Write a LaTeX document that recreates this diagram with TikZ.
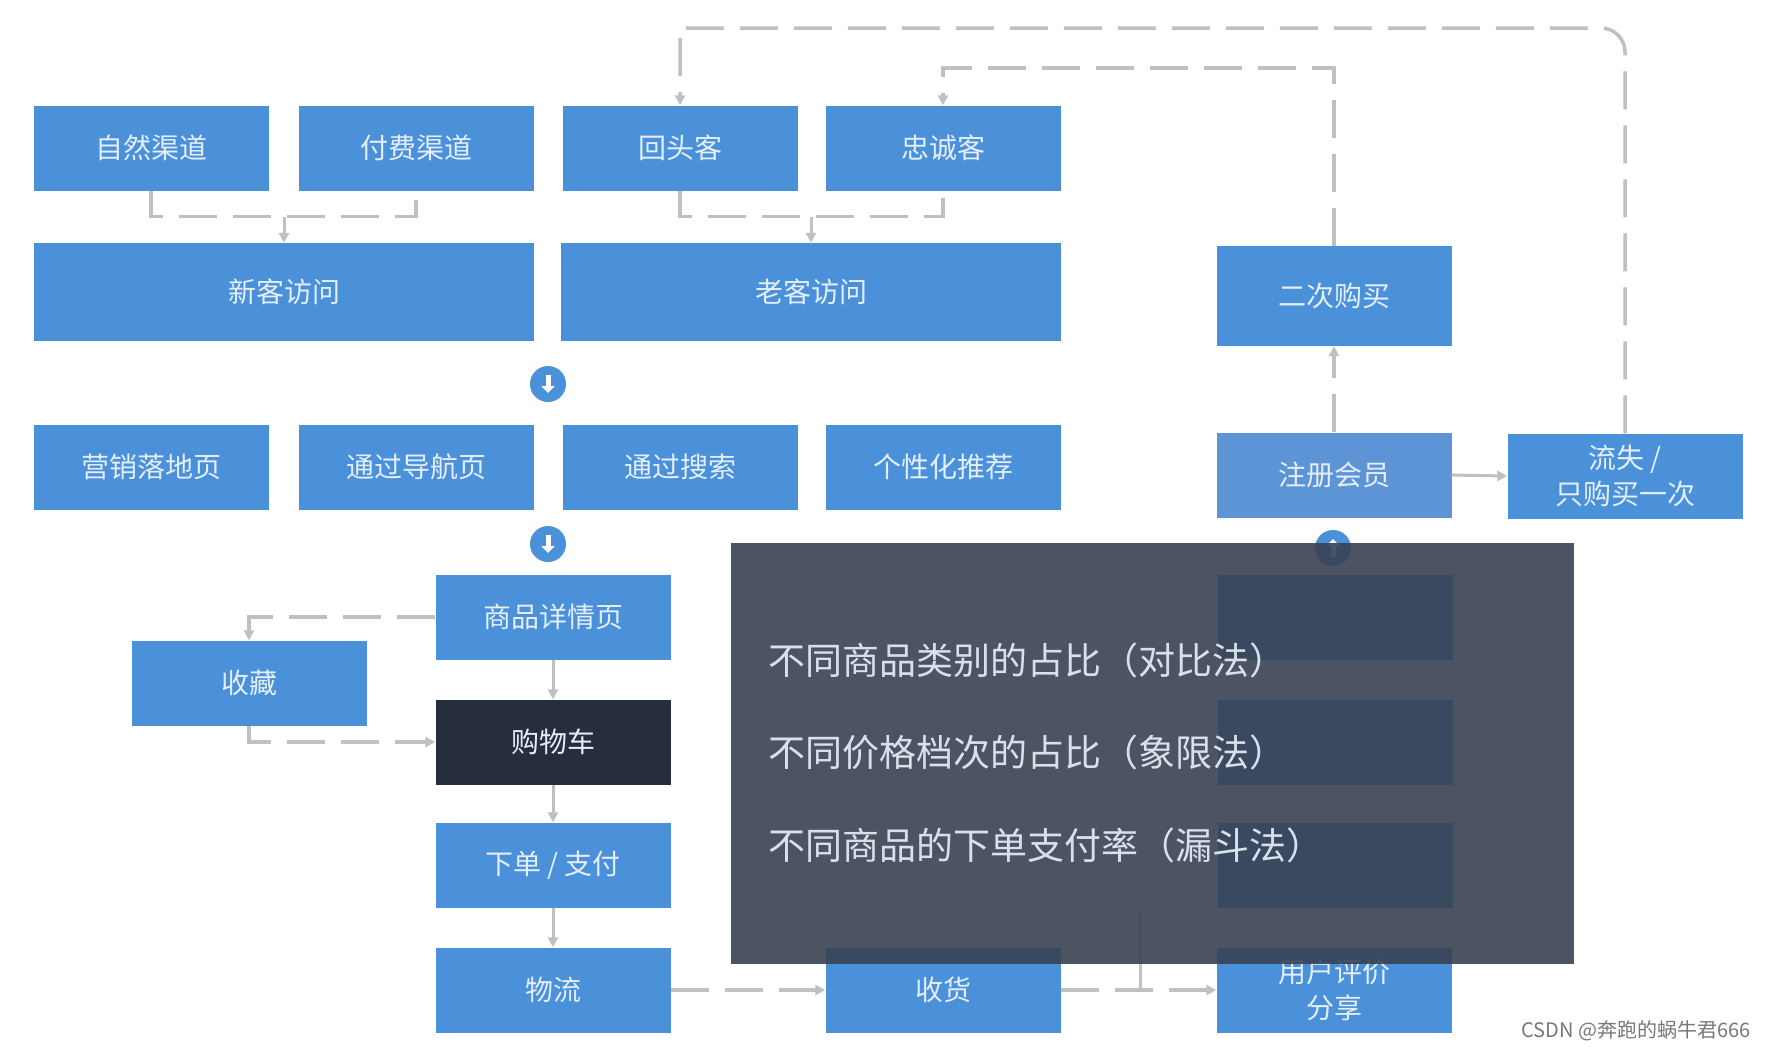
\documentclass[tikz,border=0pt]{standalone}
\usepackage{fontspec}
\setmainfont{Noto Sans CJK SC}
\usetikzlibrary{arrows.meta,positioning}

\definecolor{boxblue}{RGB}{74,145,218}
\definecolor{memberblue}{RGB}{92,148,214}
\definecolor{cartdark}{RGB}{38,45,61}
\definecolor{linegrey}{RGB}{192,192,192}
\definecolor{veilgrey}{RGB}{57,66,83}
\definecolor{boxtext}{RGB}{228,238,249}
\definecolor{marktext}{RGB}{120,120,120}

\tikzset{
  stage/.style={fill=boxblue, text=boxtext, minimum width=235pt, minimum height=85pt,
    inner sep=0pt, align=center, font=\fontsize{28}{36}\selectfont},
  wide/.style={minimum width=500pt, minimum height=98pt},
  flow/.style={draw=linegrey, line width=3.5pt, dash pattern=on 38pt off 16pt},
  link/.style={draw=linegrey, line width=3pt},
  tip/.style={-{Triangle[length=10pt,width=10pt]}},
  badge/.style={circle, fill=boxblue, minimum size=36pt, inner sep=0pt},
  badgearrow/.style={white, line width=5pt, -{Triangle[length=7pt,width=13pt]}},
}

\begin{document}
\begin{tikzpicture}[x=1pt,y=-1pt]
\fill[white] (0,0) rectangle (1769,1050);
\useasboundingbox (0,0) rectangle (1769,1050);

% channels and visitors
\node[stage] (ziran) at (151,148) {自然渠道};
\node[stage] (fufei) at (416,148) {付费渠道};
\node[stage] (huitou) at (680,148) {回头客};
\node[stage] (zhongcheng) at (943,148) {忠诚客};
\node[stage, wide] (xinke) at (284,292) {新客访问};
\node[stage, wide] (laoke) at (811,292) {老客访问};

\node[badge] (down1) at (548,384) {};
\draw[badgearrow] ([yshift=9pt]down1.center) -- ([yshift=-9pt]down1.center);

% entry pages
\node[stage] (yingxiao) at (151,467) {营销落地页};
\node[stage] (daohang) at (416,467) {通过导航页};
\node[stage] (sousuo) at (680,467) {通过搜索};
\node[stage] (tuijian) at (943,467) {个性化推荐};

\node[badge] (down2) at (548,544) {};
\draw[badgearrow] ([yshift=9pt]down2.center) -- ([yshift=-9pt]down2.center);

% purchase path
\node[stage] (xiangqing) at (553,617) {商品详情页};
\node[stage] (shoucang) at (249,683) {收藏};
\node[stage, fill=cartdark] (gouwu) at (553,742) {购物车};
\node[stage] (xiadan) at (553,865) {下单 / 支付};
\node[stage] (wuliu) at (553,990) {物流};
\node[stage] (shouhuo) at (943,990) {收货};
\node[stage] (pingjia) at (1334,990) {用户评价\\分享};

% members
\node[stage, minimum height=100pt] (erci) at (1334,296) {二次购买};
\node[stage, fill=memberblue] (zhuce) at (1334,475) {注册会员};
\node[stage] (liushi) at (1625,476) {流失 /\\只购买一次};

% boxes under the veil
\node[stage] (hidden1) at (1335,617) {};
\node[stage] (hidden2) at (1335,742) {};
\node[stage] (hidden3) at (1335,865) {};
\node[badge] (up3) at (1333,548) {};
\draw[badgearrow] ([yshift=-9pt]up3.center) -- ([yshift=9pt]up3.center);

% connectors
\draw[flow] (ziran.south) -- ++(0,26) -| (fufei.south);
\coordinate (newjoin) at (284,217);
\draw[link, tip] (newjoin) -- (xinke.north);
\draw[flow] (huitou.south) -- ++(0,26) -| (zhongcheng.south);
\coordinate (oldjoin) at (811,217);
\draw[link, tip] (oldjoin) -- (laoke.north);

\coordinate (losttop) at (1625,28);
\coordinate (backtop) at (680,28);
\draw[flow, tip] (liushi.north) [rounded corners=24pt] -- (losttop) [sharp corners] -- (backtop) -- (huitou.north);
\coordinate (secondtop) at (1334,68);
\coordinate (loyaltop) at (943,68);
\draw[flow, tip] (erci.north) -- (secondtop) -- (loyaltop) -- (zhongcheng.north);
\draw[flow, tip] (zhuce.north) -- (erci.south);
\draw[link, tip] (zhuce.east) -- (liushi.west);

\draw[flow, tip] (xiangqing.west) -| (shoucang.north);
\draw[flow, tip] (shoucang.south) |- (gouwu.west);
\draw[link, tip] (xiangqing.south) -- (gouwu.north);
\draw[link, tip] (gouwu.south) -- (xiadan.north);
\draw[link, tip] (xiadan.south) -- (wuliu.north);
\draw[flow, tip] (wuliu.east) -- (shouhuo.west);
\draw[flow, tip] (shouhuo.east) -- (pingjia.west);
\coordinate (branch) at (1140,990);
\draw[link] (branch) -- ++(0,-80);

% veil with notes
\node[fill=veilgrey, fill opacity=0.9, minimum width=843pt, minimum height=421pt, inner sep=0pt] (veil) at (1152.5,753.5) {};
\begin{scope}[every node/.style={anchor=west, text=boxtext!88!gray, font=\fontsize{37}{42}\selectfont}]
\node (note1) at (765,660) {不同商品类别的占比（对比法）};
\node (note2) at (765,752) {不同价格档次的占比（象限法）};
\node (note3) at (765,845) {不同商品的下单支付率（漏斗法）};
\end{scope}

\node[anchor=east, text=marktext, font=\fontsize{20}{24}\selectfont] (mark) at (1754,1031) {CSDN @奔跑的蜗牛君666};
\end{tikzpicture}
\end{document}
